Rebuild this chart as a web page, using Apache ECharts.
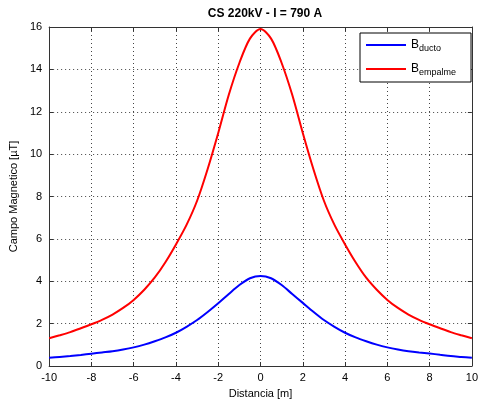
<!DOCTYPE html>
<html><head><meta charset="utf-8">
<script src="https://cdn.jsdelivr.net/npm/echarts@6/dist/echarts.min.js"></script>
<style>html,body{margin:0;padding:0;background:#fff}#c{width:481px;height:406px}</style>
</head><body><div id="c"></div>
<script>
const xValues = [-10,-9.5,-9,-8.5,-8,-7.5,-7,-6.5,-6,-5.5,-5,-4.5,-4,-3.5,-3,-2.5,-2,-1.5,-1,-0.5,0,0.5,1,1.5,2,2.5,3,3.5,4,4.5,5,5.5,6,6.5,7,7.5,8,8.5,9,9.5,10];
const bDucto = [0.39,0.43,0.47,0.52,0.58,0.64,0.70,0.78,0.88,1.01,1.17,1.35,1.57,1.85,2.17,2.55,2.96,3.40,3.82,4.14,4.25,4.14,3.82,3.40,2.98,2.56,2.17,1.85,1.57,1.35,1.17,1.01,0.88,0.78,0.70,0.64,0.59,0.53,0.47,0.43,0.39];
const bEmpalme = [1.31,1.45,1.60,1.78,1.97,2.18,2.43,2.74,3.12,3.60,4.18,4.90,5.74,6.66,7.80,9.30,11.0,12.80,14.3,15.45,15.9,15.45,14.3,12.80,11.0,9.30,7.80,6.66,5.74,4.90,4.17,3.60,3.12,2.74,2.43,2.18,1.97,1.78,1.60,1.45,1.31];
const xTicks = {min:-10, max:10, interval:2};
const yTicks = {min:0, max:16, interval:2};
const titleText = 'CS 220kV - I = 790 A';
const xName = 'Distancia [m]';
const yName = 'Campo Magnetico [µT]';

const ch = echarts.init(document.getElementById('c'));
const font = 'Liberation Sans, Arial, Helvetica, sans-serif';
const axisCommon = {
  axisLine:{show:true,onZero:false,lineStyle:{color:'#333',width:1}},
  axisTick:{show:true,inside:true,length:4,lineStyle:{color:'#333'}},
  splitLine:{show:false}
};
ch.setOption({
  animation:false,
  title:{text:titleText,left:260,top:3,textAlign:'center',textStyle:{fontFamily:font,fontSize:12,fontWeight:'bold',color:'#000'}},
  grid:{left:45,right:4,top:27,bottom:40,containLabel:false},
  legend:{
    data:['ducto','empalme'],
    left:360, top:33, orient:'vertical',
    backgroundColor:'#fff', borderColor:'#000', borderWidth:1,
    padding:[6,15,5,6], itemGap:10,
    icon:'rect', itemWidth:40, itemHeight:2,
    formatter:(n)=>'{b|B}{s|'+n+'}',
    textStyle:{fontFamily:font,color:'#000',rich:{b:{fontSize:12,fontFamily:font,color:'#000'},s:{fontSize:9,fontFamily:font,color:'#000',padding:[7,0,0,0]}}}
  },
  xAxis:[
    Object.assign({type:'value',min:xTicks.min,max:xTicks.max,interval:xTicks.interval,position:'bottom',
      axisLabel:{fontFamily:font,fontSize:11,color:'#000',margin:6},
      name:xName,nameLocation:'middle',nameGap:22,nameTextStyle:{fontFamily:font,fontSize:11,color:'#000'},
      splitLine:{show:true,lineStyle:{color:'#444',type:[1,3],width:1}}},{axisLine:axisCommon.axisLine,axisTick:axisCommon.axisTick}),
    Object.assign({type:'value',min:xTicks.min,max:xTicks.max,interval:xTicks.interval,position:'top',axisLabel:{show:false}},axisCommon)
  ],
  yAxis:[
    Object.assign({type:'value',min:yTicks.min,max:yTicks.max,interval:yTicks.interval,position:'left',
      axisLabel:{fontFamily:font,fontSize:11,color:'#000',margin:7},
      name:yName,nameLocation:'middle',nameGap:26,nameTextStyle:{fontFamily:font,fontSize:11,color:'#000'},
      splitLine:{show:true,lineStyle:{color:'#444',type:[1,3],width:1}}},{axisLine:axisCommon.axisLine,axisTick:axisCommon.axisTick}),
    Object.assign({type:'value',min:yTicks.min,max:yTicks.max,interval:yTicks.interval,position:'right',axisLabel:{show:false}},axisCommon)
  ],
  series:[
    {name:'ducto',type:'line',data:xValues.map((x,i)=>[x,bDucto[i]]),symbol:'none',smooth:0.3,lineStyle:{color:'#0000ff',width:2},itemStyle:{color:'#0000ff'},z:3},
    {name:'empalme',type:'line',data:xValues.map((x,i)=>[x,bEmpalme[i]]),symbol:'none',smooth:0.3,lineStyle:{color:'#ff0000',width:2},itemStyle:{color:'#ff0000'},z:3}
  ]
});
</script></body></html>
